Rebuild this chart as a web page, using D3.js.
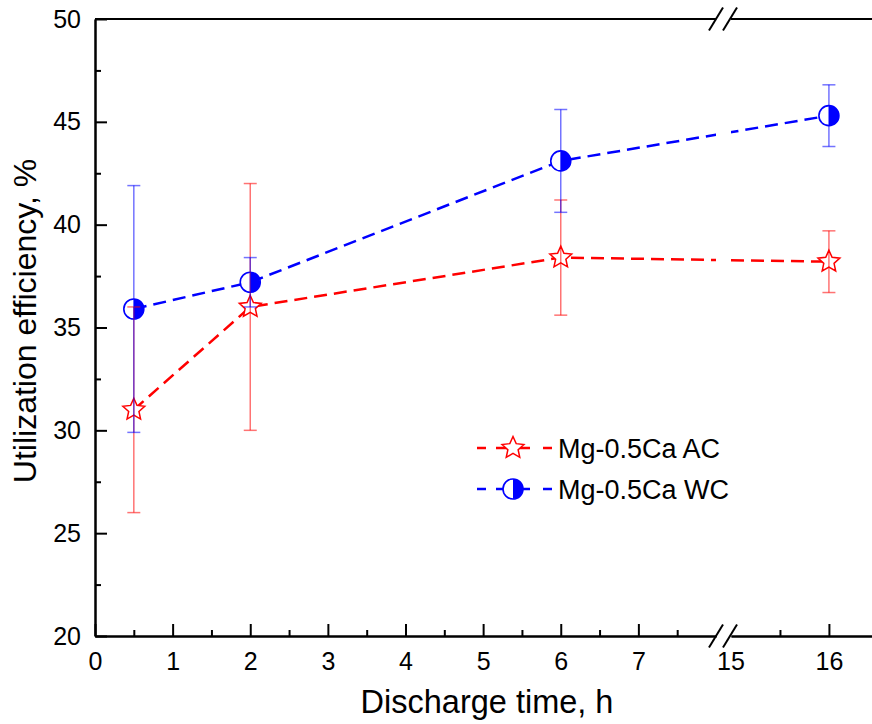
<!DOCTYPE html>
<html>
<head>
<meta charset="utf-8">
<script src="https://cdn.jsdelivr.net/npm/d3@7"></script>
<style>
    body { margin: 0; background: #fff; }
    svg { display: block; font-family: Arial, "Liberation Sans", sans-serif; }
</style>
</head>
<body>
<svg id="chart" width="872" height="724"></svg>
<script>
// data
const times = [0.5, 2, 6, 16];
const acMean = [31.0, 36.0, 38.4, 38.2];
const acLow = [26.0, 30.0, 35.6, 36.7];
const acHigh = [36.0, 42.0, 41.2, 39.7];
const wcMean = [35.9, 37.2, 43.1, 45.3];
const wcLow = [29.9, 36.0, 40.6, 43.8];
const wcHigh = [41.9, 38.4, 45.6, 46.8];
const seriesNames = ["Mg-0.5Ca AC", "Mg-0.5Ca WC"];
const xTicksLeft = [0, 1, 2, 3, 4, 5, 6, 7];
const xTicksRight = [16];
const yTicks = [20, 25, 30, 35, 40, 45, 50];

const svg = d3.select("#chart");
const W = 872;
const plotLeft = 95, plotTop = 19, plotBottom = 636;
const breakL = 716, breakR = 731;

const xLeft = d3.scaleLinear().domain([0, 8]).range([plotLeft, breakL]);
const xRight = d3.scaleLinear().domain([15, 16.44]).range([breakR, W]);
const xPos = (v) => (v <= 8 ? xLeft(v) : xRight(v));
const y = d3.scaleLinear().domain([20, 50]).range([plotBottom, plotTop]);

const red = "#ff0000";
const blue = "#0000ff";

// clip out the break gap for the data lines
const defs = svg.append("defs");
const clip = defs.append("clipPath").attr("id", "gap-clip");
clip.append("rect").attr("x", 0).attr("y", 0).attr("width", breakL).attr("height", 724);
clip.append("rect").attr("x", breakR).attr("y", 0).attr("width", W - breakR).attr("height", 724);

const series = [
    { name: seriesNames[0], color: red, mean: acMean, low: acLow, high: acHigh, marker: "star" },
    { name: seriesNames[1], color: blue, mean: wcMean, low: wcLow, high: wcHigh, marker: "half" },
];

function starPath(cx, cy, ro, ri) {
    const pts = [];
    for (let i = 0; i < 10; i++) {
        const r = i % 2 === 0 ? ro : ri;
        const a = -Math.PI / 2 + (i * Math.PI) / 5;
        pts.push([cx + r * Math.cos(a), cy + r * Math.sin(a)]);
    }
    return "M" + pts.map((p) => p.join(",")).join("L") + "Z";
}

function drawMarker(g, kind, cx, cy, color) {
    if (kind === "star") {
        g.append("path")
            .attr("d", starPath(cx, cy, 11.5, 5.4))
            .attr("fill", "#fff")
            .attr("stroke", color)
            .attr("stroke-width", 1.5);
    } else {
        const r = 10;
        g.append("circle")
            .attr("cx", cx).attr("cy", cy).attr("r", r)
            .attr("fill", "#fff");
        g.append("path")
            .attr("d", `M${cx},${cy - r}A${r},${r} 0 0 1 ${cx},${cy + r}Z`)
            .attr("fill", color);
        g.append("circle")
            .attr("cx", cx).attr("cy", cy).attr("r", r)
            .attr("fill", "none")
            .attr("stroke", color)
            .attr("stroke-width", 1.6);
    }
}

const line = d3.line()
    .x((d) => xPos(d.t))
    .y((d) => y(d.v));

const linesG = svg.append("g").attr("clip-path", "url(#gap-clip)");
series.forEach((s) => {
    const pts = times.map((t, i) => ({ t: t, v: s.mean[i] }));
    linesG.append("path")
        .attr("d", line(pts))
        .attr("fill", "none")
        .attr("stroke", s.color)
        .attr("stroke-width", 2.5)
        .attr("stroke-dasharray", "13,7");
});

const markG = svg.append("g");
series.forEach((s) => {
    times.forEach((t, i) => drawMarker(markG, s.marker, xPos(t), y(s.mean[i]), s.color));
});

// error bars on top, semi transparent
const errG = svg.append("g").attr("stroke-width", 1.5).attr("stroke-opacity", 0.55);
series.forEach((s) => {
    times.forEach((t, i) => {
        const cx = xPos(t);
        errG.append("line")
            .attr("x1", cx).attr("x2", cx)
            .attr("y1", y(s.low[i])).attr("y2", y(s.high[i]))
            .attr("stroke", s.color);
        [s.low[i], s.high[i]].forEach((v) => {
            errG.append("line")
                .attr("x1", cx - 6.5).attr("x2", cx + 6.5)
                .attr("y1", y(v)).attr("y2", y(v))
                .attr("stroke", s.color);
        });
    });
});

// axes
function styleAxis(g, fontSize) {
    g.selectAll("path.domain").attr("stroke", "#000").attr("stroke-width", 2);
    g.selectAll(".tick line").attr("stroke", "#000").attr("stroke-width", 2);
    g.selectAll(".tick text")
        .attr("fill", "#000")
        .style("font-size", fontSize + "px")
        .style("font-family", "Arial, 'Liberation Sans', sans-serif");
}

const fmt = d3.format("d");

const xAxisL = svg.append("g")
    .attr("transform", `translate(0,${plotBottom})`)
    .call(d3.axisBottom(xLeft).tickValues(xTicksLeft).tickFormat(fmt).tickSize(-12).tickSizeOuter(0).tickPadding(16));
styleAxis(xAxisL, 25);
const xAxisLMinor = svg.append("g")
    .attr("transform", `translate(0,${plotBottom})`)
    .call(d3.axisBottom(xLeft).tickValues(xTicksLeft.map((d) => d + 0.5)).tickSize(-6).tickSizeOuter(0).tickFormat(""));
styleAxis(xAxisLMinor, 25);

const xAxisR = svg.append("g")
    .attr("transform", `translate(0,${plotBottom})`)
    .call(d3.axisBottom(xRight).tickValues(xTicksRight).tickFormat(fmt).tickSize(-12).tickSizeOuter(0).tickPadding(16));
styleAxis(xAxisR, 25);
const xAxisRMinor = svg.append("g")
    .attr("transform", `translate(0,${plotBottom})`)
    .call(d3.axisBottom(xRight).tickValues([15.5]).tickSize(-6).tickSizeOuter(0).tickFormat(""));
styleAxis(xAxisRMinor, 25);

// label "15" sits right at the break
svg.append("text")
    .attr("x", xRight(15))
    .attr("y", plotBottom + 34)
    .attr("text-anchor", "middle")
    .style("font-size", "25px")
    .text("15");

const yAxis = svg.append("g")
    .attr("transform", `translate(${plotLeft},0)`)
    .call(d3.axisLeft(y).tickValues(yTicks).tickFormat(fmt).tickSize(-12).tickSizeOuter(0).tickPadding(14));
styleAxis(yAxis, 25);
const yAxisMinor = svg.append("g")
    .attr("transform", `translate(${plotLeft},0)`)
    .call(d3.axisLeft(y).tickValues(yTicks.slice(0, -1).map((d) => d + 2.5)).tickSize(-6).tickSizeOuter(0).tickFormat(""));
styleAxis(yAxisMinor, 25);

// top frame line with the break gap
svg.append("line").attr("x1", plotLeft).attr("x2", breakL).attr("y1", plotTop).attr("y2", plotTop)
    .attr("stroke", "#000").attr("stroke-width", 2);
svg.append("line").attr("x1", breakR).attr("x2", W).attr("y1", plotTop).attr("y2", plotTop)
    .attr("stroke", "#000").attr("stroke-width", 2);

// break marks
[plotTop, plotBottom].forEach((yy) => {
    [breakL, breakR - 1].forEach((xx) => {
        svg.append("line")
            .attr("x1", xx - 7).attr("y1", yy + 11.5)
            .attr("x2", xx + 7).attr("y2", yy - 11.5)
            .attr("stroke", "#000").attr("stroke-width", 2);
    });
});

// axis titles
svg.append("text")
    .attr("x", 487)
    .attr("y", 713)
    .attr("text-anchor", "middle")
    .style("font-size", "32.5px")
    .text("Discharge time, h");

svg.append("text")
    .attr("transform", "translate(36,321) rotate(-90)")
    .attr("text-anchor", "middle")
    .style("font-size", "32px")
    .text("Utilization efficiency, %");

// legend
const legend = svg.append("g");
series.forEach((s, i) => {
    const ly = 448 + i * 41;
    [[477, 486], [496, 530], [543, 552]].forEach((seg) => {
        legend.append("line")
            .attr("x1", seg[0]).attr("x2", seg[1])
            .attr("y1", ly).attr("y2", ly)
            .attr("stroke", s.color)
            .attr("stroke-width", 2.5);
    });
    drawMarker(legend, s.marker, 513, ly, s.color);
    legend.append("text")
        .attr("x", 558)
        .attr("y", ly + 9.5)
        .style("font-size", "27px")
        .text(s.name);
});
</script>
</body>
</html>
